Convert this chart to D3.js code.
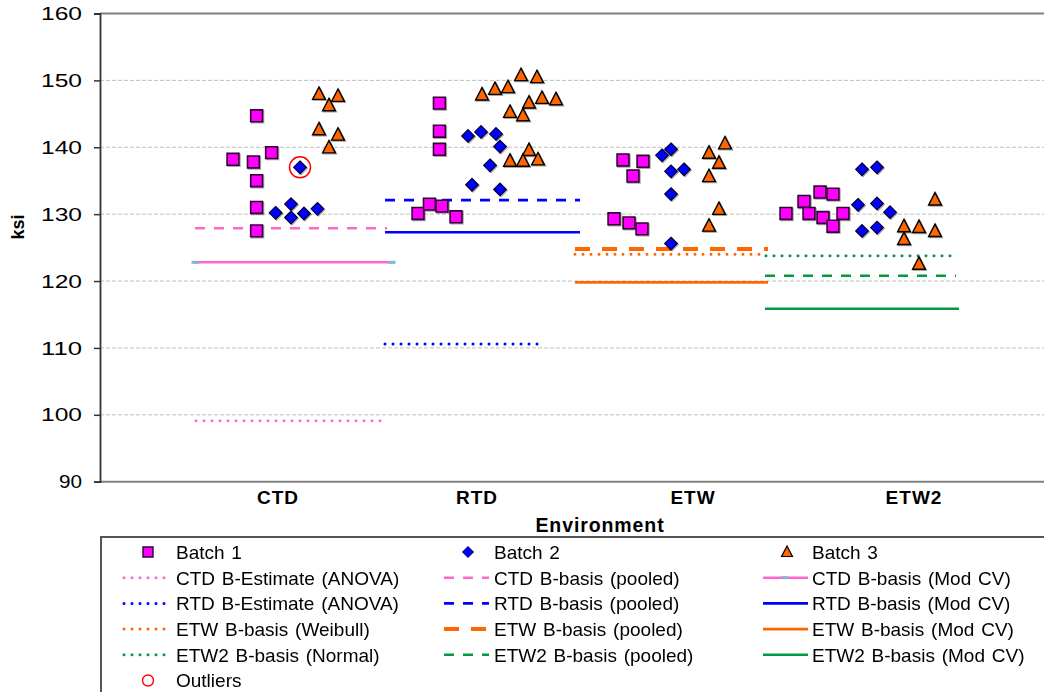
<!DOCTYPE html>
<html lang="en">
<head>
    <meta charset="UTF-8">
    <title>ksi by Environment</title>
    <script src="https://d3js.org/d3.v7.min.js"></script>
    <style>
        body { margin: 0; background: #fff; }
        svg { display: block; font-family: "Liberation Sans", Arial, sans-serif; }
        .grid line { stroke: #c0c0c0; stroke-dasharray: 4 2; }
    </style>
</head>
<body>
<svg width="1044" height="692"></svg>
<script>
    // environments and where their labels sit on the x scale
    const environments = ["CTD", "RTD", "ETW", "ETW2"];
    const envLabelX = [0.89, 1.885, 2.965, 4.07];

    const yTicks = [90, 100, 110, 120, 130, 140, 150, 160];

    // [x, ksi] points for each batch
    const batch1 = [
        [0.665, 138.2], [0.767, 137.8], [0.783, 144.7], [0.858, 139.2], [0.783, 135.0], [0.783, 131.0], [0.783, 127.5],
        [1.697, 146.6], [1.697, 142.4], [1.697, 139.7], [1.59, 130.1], [1.647, 131.5], [1.71, 131.2], [1.78, 129.6],
        [2.615, 138.1], [2.715, 137.9], [2.665, 135.7], [2.57, 129.3], [2.645, 128.7], [2.71, 127.8],
        [3.43, 130.1], [3.52, 131.9], [3.545, 130.1], [3.60, 133.3], [3.665, 133.0], [3.615, 129.5], [3.715, 130.1], [3.665, 128.2]
    ];
    const batch2 = [
        [0.878, 130.2], [0.955, 131.5], [0.955, 129.5], [1.02, 130.1], [1.087, 130.8], [1.00, 137.0],
        [1.84, 141.7], [1.905, 142.3], [1.98, 142.0], [2.00, 140.1], [1.95, 137.3], [1.86, 134.4], [2.00, 133.7],
        [2.81, 138.8], [2.855, 139.7], [2.855, 136.4], [2.92, 136.7], [2.855, 133.0], [2.855, 125.6],
        [3.81, 136.7], [3.885, 137.0], [3.79, 131.4], [3.885, 131.6], [3.95, 130.3], [3.81, 127.5], [3.885, 128.0]
    ];
    const batch3 = [
        [1.095, 148.0], [1.19, 147.7], [1.145, 146.3], [1.095, 142.7], [1.19, 141.9], [1.145, 140.0],
        [1.91, 147.9], [1.975, 148.75], [2.04, 149.0], [2.105, 150.8], [2.185, 150.5], [2.05, 145.3], [2.115, 144.8],
        [2.145, 146.7], [2.21, 147.4], [2.28, 147.2], [2.145, 139.6], [2.05, 138.0], [2.115, 138.0], [2.19, 138.2],
        [3.125, 140.6], [3.045, 139.2], [3.095, 137.7], [3.045, 135.7], [3.095, 130.8], [3.045, 128.3],
        [4.175, 132.2], [4.02, 128.2], [4.095, 128.1], [4.175, 127.5], [4.02, 126.3], [4.095, 122.6]
    ];
    const outliers = [[1.00, 137.0]];

    // basis values: one line per entry, with the x range it spans
    const basisNames = [
        "CTD B-Estimate (ANOVA)", "CTD B-basis (pooled)", "CTD B-basis (Mod CV)",
        "RTD B-Estimate (ANOVA)", "RTD B-basis (pooled)", "RTD B-basis (Mod CV)",
        "ETW B-basis (Weibull)", "ETW B-basis (pooled)", "ETW B-basis (Mod CV)",
        "ETW2 B-basis (Normal)", "ETW2 B-basis (pooled)", "ETW2 B-basis (Mod CV)"
    ];
    const basisValues = [99.1, 127.9, 122.8, 110.6, 132.1, 127.3, 124.0, 124.8, 119.8, 123.8, 120.8, 115.85];
    const basisEnv = [0, 0, 0, 1, 1, 1, 2, 2, 2, 3, 3, 3];
    const basisStart = [0.48, 0.475, 0.475, 1.425, 1.425, 1.425, 2.375, 2.375, 2.375, 3.33, 3.325, 3.325];
    const basisEnd = [1.42, 1.435, 1.46, 2.225, 2.40, 2.40, 3.33, 3.34, 3.34, 4.26, 4.28, 4.295];

    // styling, kept apart from the numbers
    const envColor = ["#ff66cc", "#0000ff", "#ff6600", "#009944"];
    const kindStyle = {
        dot:  { width: 3,   dash: "0 8",   cap: "round" },
        dash: { width: 2.6, dash: "10 9",  cap: "butt" },
        bold: { width: 4,   dash: "15 12", cap: "butt" },
        solid:{ width: 2.6, dash: null,    cap: "butt" }
    };
    const basisKind = ["dot", "dash", "solid", "dot", "dash", "solid", "dot", "bold", "solid", "dot", "dash", "solid"];

    const svg = d3.select("svg");
    const pLeft = 100, pTop = 13.5, pBottom = 481.7, pRight = 1044;

    const x = d3.scaleLinear().domain([0, 4.72]).range([pLeft, pLeft + 4.72 * 200]);
    const y = d3.scaleLinear().domain([90, 160]).range([pBottom, pTop]);

    // drop shadow like the spreadsheet markers
    const defs = svg.append("defs");
    const f = defs.append("filter").attr("id", "shadow").attr("x", "-50%").attr("y", "-50%")
        .attr("width", "200%").attr("height", "200%");
    f.append("feDropShadow").attr("dx", 1).attr("dy", 1).attr("stdDeviation", 0.6)
        .attr("flood-color", "#000").attr("flood-opacity", 0.35);

    // grid lines
    svg.append("g").attr("class", "grid")
        .selectAll("line")
        .data(yTicks.filter(t => t > 90 && t < 160))
        .join("line")
        .attr("x1", pLeft).attr("x2", pRight)
        .attr("y1", d => y(d)).attr("y2", d => y(d));

    // top and bottom frame lines
    svg.append("line").attr("x1", pLeft).attr("x2", pRight).attr("y1", y(160)).attr("y2", y(160))
        .attr("stroke", "#808080").attr("stroke-width", 2);
    svg.append("line").attr("x1", pLeft).attr("x2", pRight).attr("y1", y(90)).attr("y2", y(90))
        .attr("stroke", "#808080").attr("stroke-width", 2);

    // y axis
    const yAxis = svg.append("g")
        .attr("transform", `translate(${pLeft},0)`)
        .call(d3.axisLeft(y).tickValues(yTicks).tickSize(6).tickPadding(12));
    yAxis.select(".domain").attr("stroke", "#333").attr("stroke-width", 1.8);
    yAxis.selectAll(".tick line").attr("stroke", "#333").attr("stroke-width", 1.5);
    yAxis.selectAll(".tick text").attr("font-size", 19).attr("fill", "#000")
        .attr("font-family", "Liberation Sans, Arial, sans-serif")
        .attr("textLength", d => String(d).length > 2 ? 41 : 23)
        .attr("lengthAdjust", "spacingAndGlyphs");

    svg.append("text")
        .attr("transform", `translate(24,${227}) rotate(-90)`)
        .attr("text-anchor", "middle")
        .attr("font-size", 18).attr("font-weight", "bold")
        .text("ksi");

    // category labels
    svg.append("g").selectAll("text")
        .data(environments)
        .join("text")
        .attr("x", (d, i) => x(envLabelX[i]))
        .attr("y", 504)
        .attr("text-anchor", "middle")
        .attr("font-size", 19).attr("font-weight", "bold")
        .attr("letter-spacing", 1)
        .text(d => d);

    svg.append("text")
        .attr("x", 600).attr("y", 532)
        .attr("text-anchor", "middle")
        .attr("font-size", 19.5).attr("font-weight", "bold")
        .attr("letter-spacing", 0.9)
        .text("Environment");

    // basis lines
    const lines = svg.append("g");
    lines.selectAll("line")
        .data(basisValues)
        .join("line")
        .attr("x1", (d, i) => x(basisStart[i]))
        .attr("x2", (d, i) => x(basisEnd[i]))
        .attr("y1", d => y(d)).attr("y2", d => y(d))
        .attr("stroke", (d, i) => envColor[basisEnv[i]])
        .attr("stroke-width", (d, i) => kindStyle[basisKind[i]].width)
        .attr("stroke-dasharray", (d, i) => kindStyle[basisKind[i]].dash)
        .attr("stroke-linecap", (d, i) => kindStyle[basisKind[i]].cap);

    // the CTD Mod CV series carries small light blue markers at its ends
    lines.selectAll("rect.cap")
        .data([basisStart[2], basisEnd[2]])
        .join("rect")
        .attr("class", "cap")
        .attr("x", d => x(d) - 3.5).attr("y", y(basisValues[2]) - 1.5)
        .attr("width", 7).attr("height", 3)
        .attr("fill", "#7fb8d0");

    // marker shapes
    const sq = d3.symbol().type(d3.symbolSquare).size(140);
    const dia = "M0,-6.3L6.3,0L0,6.3L-6.3,0Z";
    const tri = "M0,-6.8L6.4,5.6L-6.4,5.6Z";

    const marks = svg.append("g").attr("filter", "url(#shadow)");
    marks.selectAll("path.b1")
        .data(batch1).join("path").attr("class", "b1")
        .attr("d", sq())
        .attr("transform", d => `translate(${x(d[0])},${y(d[1])})`)
        .attr("fill", "#ff00ff").attr("stroke", "#330033").attr("stroke-width", 1.6);
    marks.selectAll("path.b2")
        .data(batch2).join("path").attr("class", "b2")
        .attr("d", dia)
        .attr("transform", d => `translate(${x(d[0])},${y(d[1])})`)
        .attr("fill", "#0000ff").attr("stroke", "#000033").attr("stroke-width", 1.2);
    marks.selectAll("path.b3")
        .data(batch3).join("path").attr("class", "b3")
        .attr("d", tri)
        .attr("transform", d => `translate(${x(d[0])},${y(d[1])})`)
        .attr("fill", "#ff6600").attr("stroke", "#000").attr("stroke-width", 1.4);

    svg.append("g").selectAll("circle")
        .data(outliers).join("circle")
        .attr("cx", d => x(d[0])).attr("cy", d => y(d[1]))
        .attr("r", 10.5)
        .attr("fill", "none").attr("stroke", "#ff0000").attr("stroke-width", 1.5);

    // legend
    const legendTop = 537, rowH = 25.7;
    const colSample = [146, 466, 785];
    const colText = [176, 494, 812];
    const legendEntries = [
        { label: "Batch 1", mark: "b1" }, { label: "Batch 2", mark: "b2" }, { label: "Batch 3", mark: "b3" }
    ].concat(basisNames.map((n, i) => ({ label: n, line: i })))
     .concat([{ label: "Outliers", mark: "out" }]);

    svg.append("rect")
        .attr("x", 101).attr("y", legendTop)
        .attr("width", 1000).attr("height", 200)
        .attr("fill", "none").attr("stroke", "#555").attr("stroke-width", 2);

    const leg = svg.append("g").selectAll("g")
        .data(legendEntries)
        .join("g")
        .attr("transform", (d, i) => `translate(0,${legendTop + 15 + Math.floor(i / 3) * rowH})`);

    leg.append("text")
        .attr("x", (d, i) => colText[i % 3])
        .attr("y", 6.8)
        .attr("font-size", 19)
        .attr("word-spacing", 1.5)
        .text(d => d.label);

    leg.filter(d => d.line !== undefined).each(function (d) {
        const g = d3.select(this);
        const col = legendEntries.indexOf(d) % 3;
        const k = kindStyle[basisKind[d.line]];
        const cx = colSample[col];
        g.append("line")
            .attr("x1", cx - 22).attr("x2", cx + 23)
            .attr("stroke", envColor[basisEnv[d.line]])
            .attr("stroke-width", k.width)
            .attr("stroke-dasharray", k.dash)
            .attr("stroke-linecap", k.cap);
        if (d.line === 2) {
            g.append("rect").attr("x", cx - 3).attr("y", -1.5).attr("width", 6).attr("height", 3)
                .attr("fill", "#7fb8d0");
        }
    });

    leg.filter(d => d.mark).each(function (d) {
        const g = d3.select(this);
        const col = legendEntries.indexOf(d) % 3;
        const cx = colSample[col] + 2;
        if (d.mark === "b1") {
            g.append("path").attr("d", d3.symbol().type(d3.symbolSquare).size(100)())
                .attr("transform", `translate(${cx},0)`)
                .attr("fill", "#ff00ff").attr("stroke", "#330033").attr("stroke-width", 1.4);
        } else if (d.mark === "b2") {
            g.append("path").attr("d", "M0,-5.5L5.5,0L0,5.5L-5.5,0Z")
                .attr("transform", `translate(${cx},0)`)
                .attr("fill", "#0000ff").attr("stroke", "#000033").attr("stroke-width", 1);
        } else if (d.mark === "b3") {
            g.append("path").attr("d", "M0,-6L5.5,4.5L-5.5,4.5Z")
                .attr("transform", `translate(${cx},0)`)
                .attr("fill", "#ff6600").attr("stroke", "#000").attr("stroke-width", 1.2);
        } else {
            g.append("circle").attr("cx", cx).attr("r", 5.5)
                .attr("fill", "none").attr("stroke", "#ff0000").attr("stroke-width", 1.4);
        }
    });
</script>
</body>
</html>
